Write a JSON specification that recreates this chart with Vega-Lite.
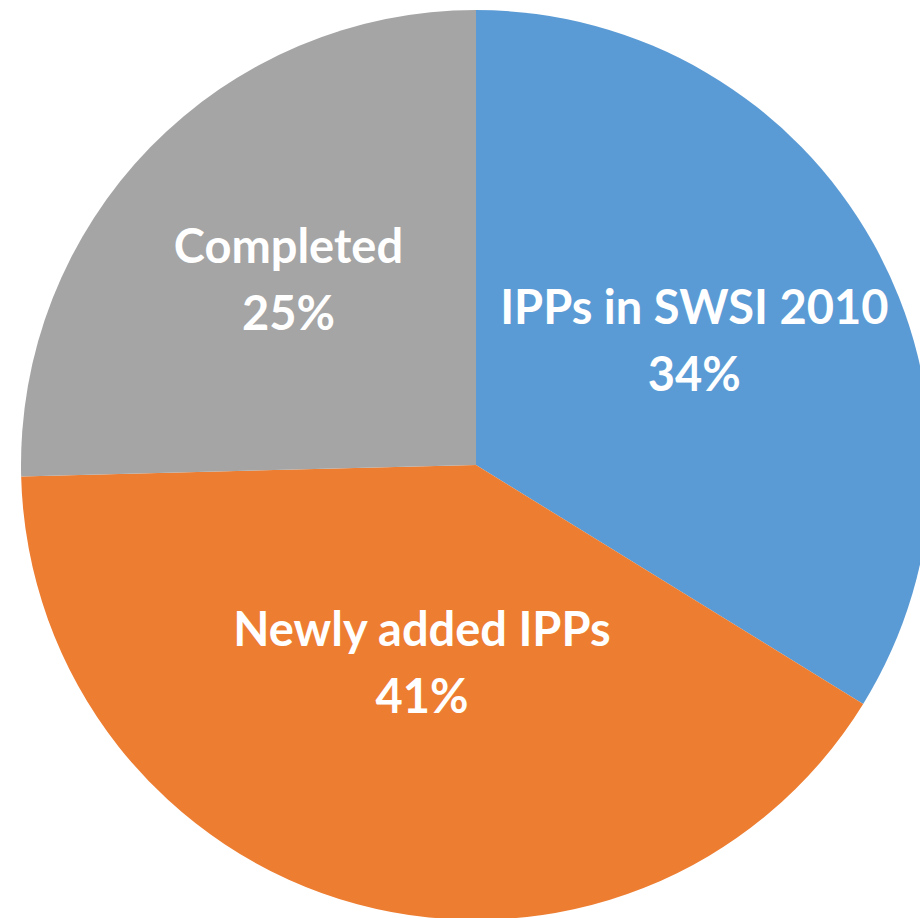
{
  "$schema": "https://vega.github.io/schema/vega-lite/v6.json",
  "width": 952,
  "height": 930,
  "padding": 0,
  "autosize": {"type": "none"},
  "background": "white",
  "view": {"stroke": null},
  "data": {
    "values": [
      {"category": "IPPs in SWSI 2010", "value": 33.8, "label": "IPPs in SWSI 2010\n34%", "order": 1},
      {"category": "Newly added IPPs", "value": 40.8, "label": "Newly added IPPs\n41%", "order": 2},
      {"category": "Completed", "value": 25.4, "label": "Completed\n25%", "order": 3}
    ]
  },
  "encoding": {
    "theta": {"field": "value", "type": "quantitative", "stack": true},
    "order": {"field": "order", "type": "quantitative"},
    "color": {
      "field": "category",
      "type": "nominal",
      "scale": {
        "domain": ["IPPs in SWSI 2010", "Newly added IPPs", "Completed"],
        "range": ["#5B9BD5", "#ED7D31", "#A5A5A5"]
      },
      "legend": null
    }
  },
  "layer": [
    {"mark": {"type": "arc", "outerRadius": 455}},
    {
      "mark": {"type": "text", "radius": 250, "font": "Lato", "fontWeight": "bold", "fontSize": 47, "lineBreak": "\n", "lineHeight": 67, "fill": "white", "align": "center", "baseline": "middle", "dy": -33},
      "encoding": {
        "text": {"condition": {"test": "datum.category === 'IPPs in SWSI 2010'", "field": "label"}, "value": ""},
        "color": {"value": "white"}
      }
    },
    {
      "mark": {"type": "text", "radius": 207, "font": "Lato", "fontWeight": "bold", "fontSize": 47, "lineBreak": "\n", "lineHeight": 67, "fill": "white", "align": "center", "baseline": "middle", "dy": -33},
      "encoding": {
        "text": {"condition": {"test": "datum.category === 'Newly added IPPs'", "field": "label"}, "value": ""},
        "color": {"value": "white"}
      }
    },
    {
      "mark": {"type": "text", "radius": 262, "font": "Lato", "fontWeight": "bold", "fontSize": 47, "lineBreak": "\n", "lineHeight": 67, "fill": "white", "align": "center", "baseline": "middle", "dy": -33},
      "encoding": {
        "text": {"condition": {"test": "datum.category === 'Completed'", "field": "label"}, "value": ""},
        "color": {"value": "white"}
      }
    }
  ]
}
